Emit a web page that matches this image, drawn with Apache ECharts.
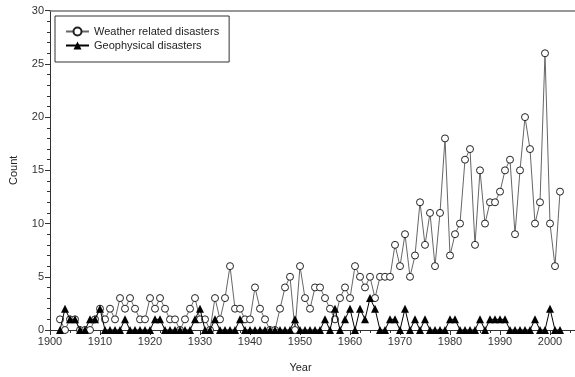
<!DOCTYPE html>
<html>
<head>
<meta charset="utf-8">
<script src="https://cdn.jsdelivr.net/npm/echarts@6/dist/echarts.min.js"></script>
<style>
  html, body { margin: 0; padding: 0; background: #fff; }
  #chart { width: 575px; height: 377px; }
</style>
</head>
<body>
<div id="chart"></div>
<script>
// === DATA ===
const years = [
  1902, 1903, 1904, 1905, 1906, 1907, 1908, 1909, 1910, 1911,
  1912, 1913, 1914, 1915, 1916, 1917, 1918, 1919, 1920, 1921,
  1922, 1923, 1924, 1925, 1926, 1927, 1928, 1929, 1930, 1931,
  1932, 1933, 1934, 1935, 1936, 1937, 1938, 1939, 1940, 1941,
  1942, 1943, 1944, 1945, 1946, 1947, 1948, 1949, 1950, 1951,
  1952, 1953, 1954, 1955, 1956, 1957, 1958, 1959, 1960, 1961,
  1962, 1963, 1964, 1965, 1966, 1967, 1968, 1969, 1970, 1971,
  1972, 1973, 1974, 1975, 1976, 1977, 1978, 1979, 1980, 1981,
  1982, 1983, 1984, 1985, 1986, 1987, 1988, 1989, 1990, 1991,
  1992, 1993, 1994, 1995, 1996, 1997, 1998, 1999, 2000, 2001,
  2002
];

const weatherCounts = [
  1, 0, 1, 1, 0, 0, 0, 1, 2, 1,
  2, 1, 3, 2, 3, 2, 1, 1, 3, 2,
  3, 2, 1, 1, 0, 1, 2, 3, 1, 1,
  0, 3, 1, 3, 6, 2, 2, 1, 1, 4,
  2, 1, 0, 0, 2, 4, 5, 0, 6, 3,
  2, 4, 4, 3, 2, 1, 3, 4, 3, 6,
  5, 4, 5, 3, 5, 5, 5, 8, 6, 9,
  5, 7, 12, 8, 11, 6, 11, 18, 7, 9,
  10, 16, 17, 8, 15, 10, 12, 12, 13, 15,
  16, 9, 15, 20, 17, 10, 12, 26, 10, 6,
  13
];

const geoCounts = [
  0, 2, 1, 1, 0, 0, 1, 1, 2, 0,
  0, 0, 0, 1, 0, 0, 0, 0, 0, 1,
  1, 0, 0, 0, 0, 0, 0, 1, 2, 0,
  0, 1, 0, 0, 0, 0, 1, 0, 0, 0,
  0, 0, 0, 0, 0, 0, 0, 1, 0, 0,
  0, 0, 0, 1, 0, 2, 0, 1, 2, 0,
  2, 1, 3, 2, 0, 0, 1, 1, 0, 2,
  0, 1, 0, 1, 0, 0, 0, 0, 1, 1,
  0, 0, 0, 0, 1, 0, 1, 1, 1, 1,
  0, 0, 0, 0, 0, 1, 0, 0, 2, 0,
  0
];

const seriesNames = ['Weather related disasters', 'Geophysical disasters'];

// === INIT ===
function init() {
  const chart = echarts.init(document.getElementById('chart'));
  chart.setOption(buildOption());
}

function toPairs(values) {
  return years.map((y, i) => [y, values[i]]);
}

// === OPTION ===
function buildOption() {
  const font = 'Liberation Sans, Arial, sans-serif';
  return {
    animation: false,
    textStyle: { fontFamily: font },
    grid: { left: 50, right: 0, top: 10.7, bottom: 47, outerBoundsMode: 'none' },
    legend: {
      orient: 'vertical',
      left: 55,
      top: 16,
      padding: [10, 10, 11, 10],
      itemGap: 3,
      itemWidth: 23,
      itemHeight: 10,
      borderColor: '#333',
      borderWidth: 1,
      textStyle: { fontSize: 11, color: '#222', fontFamily: font },
      data: seriesNames
    },
    xAxis: [{
      type: 'value',
      min: 1900,
      max: 2005,
      interval: 10,
      name: 'Year',
      nameLocation: 'middle',
      nameGap: 32,
      // the reference centres the title on 1900-2000, not on the full axis
      nameTextStyle: { fontSize: 11, color: '#222', padding: [0, 24, 0, 0] },
      axisLine: { lineStyle: { color: '#333' } },
      axisTick: { length: 5, lineStyle: { color: '#333' } },
      minorTick: { show: true, splitNumber: 5, length: 3, lineStyle: { color: '#333' } },
      axisLabel: {
        fontSize: 11, color: '#333', margin: 6,
        showMaxLabel: false,
        formatter: v => (v % 10 === 0 ? String(v) : '')
      },
      splitLine: { show: false }
    }, {
      type: 'value',
      position: 'top',
      min: 1900,
      max: 2005,
      axisLine: { show: true, lineStyle: { color: '#777', width: 1.5 } },
      axisTick: { show: false },
      axisLabel: { show: false },
      splitLine: { show: false }
    }],
    yAxis: {
      type: 'value',
      min: 0,
      max: 30,
      interval: 5,
      name: 'Count',
      nameLocation: 'middle',
      nameGap: 31,
      nameTextStyle: { fontSize: 11, color: '#222' },
      axisLine: { show: true, lineStyle: { color: '#333' } },
      axisTick: { show: true, length: 5, lineStyle: { color: '#333' } },
      minorTick: { show: true, splitNumber: 5, length: 3, lineStyle: { color: '#333' } },
      axisLabel: { fontSize: 11, color: '#333', margin: 6 },
      splitLine: { show: false }
    },
    series: [{
      name: seriesNames[0],
      type: 'line',
      data: toPairs(weatherCounts),
      symbol: 'circle',
      symbolSize: 7,
      showAllSymbol: true,
      lineStyle: { color: '#666', width: 1 },
      itemStyle: { color: '#fff', borderColor: '#222', borderWidth: 1 },
      z: 2
    }, {
      name: seriesNames[1],
      type: 'line',
      data: toPairs(geoCounts),
      symbol: 'triangle',
      symbolSize: 8,
      showAllSymbol: true,
      lineStyle: { color: '#000', width: 1 },
      itemStyle: { color: '#000' },
      z: 3
    }]
  };
}

// === RUN ===
init();
</script>
</body>
</html>
